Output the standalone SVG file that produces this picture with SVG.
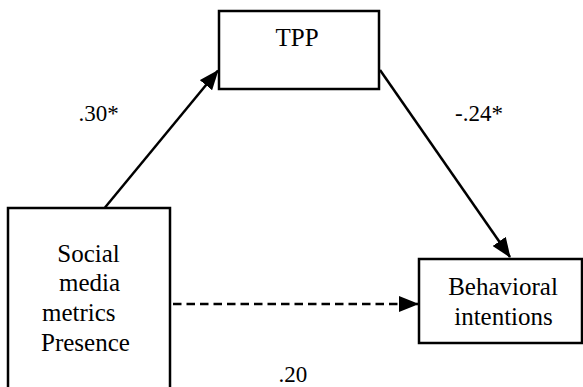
<svg xmlns="http://www.w3.org/2000/svg" width="583" height="387" viewBox="0 0 583 387">
<defs>
<marker id="ah" markerWidth="20" markerHeight="16" refX="19" refY="8" orient="auto" markerUnits="userSpaceOnUse">
<path d="M0,0 L20,8 L0,16 Z" fill="#000"/>
</marker>
<style>
.box{fill:#fff;stroke:#000;stroke-width:2.5}
.t{font-size:25px;fill:#000;text-anchor:middle}
.lb{font-size:23px;fill:#000}
.ln{stroke:#000;stroke-width:2.5;fill:none}
</style>
</defs>
<rect width="583" height="387" fill="#fff"/>
<g id="connectors">
<line class="ln" x1="105" y1="207.5" x2="218" y2="70.5" marker-end="url(#ah)"/>
<line class="ln" x1="380" y1="70" x2="510" y2="257" marker-end="url(#ah)"/>
<line class="ln" x1="173" y1="304" x2="418" y2="304" stroke-dasharray="8.5,5" marker-end="url(#ah)"/>
</g>
<g font-family="'Liberation Serif', 'Times New Roman', serif">
<g id="tpp">
<rect class="box" x="219" y="11" width="160" height="78"/>
<text class="t" x="297" y="46">TPP</text>
</g>
<g id="social">
<rect class="box" x="8" y="208" width="162" height="200"/>
<text class="t" x="88.5" y="261.5">Social</text>
<text class="t" x="89.5" y="290.5">media</text>
<text class="t" x="42" y="320.5" style="text-anchor:start">metrics</text>
<text class="t" x="41" y="350.5" style="text-anchor:start">Presence</text>
</g>
<g id="behavioral">
<rect class="box" x="419" y="259" width="163" height="84"/>
<text class="t" x="503" y="294.5">Behavioral</text>
<text class="t" x="503.5" y="324.5">intentions</text>
</g>
<g id="labels">
<text class="lb" x="78.5" y="121">.30*</text>
<text class="lb" x="455" y="121">-.24*</text>
<text class="lb" x="278.5" y="382">.20</text>
</g>
</g>
</svg>
